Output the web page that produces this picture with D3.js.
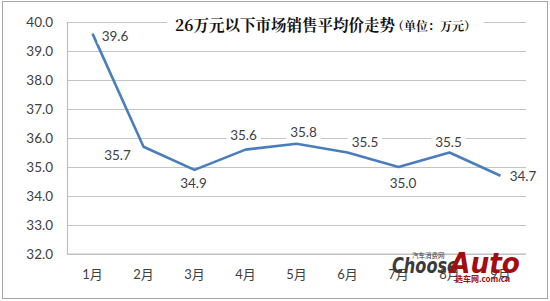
<!DOCTYPE html>
<html><head><meta charset="utf-8">
<script src="https://cdn.jsdelivr.net/npm/d3@7"></script>
<style>html,body{margin:0;padding:0;background:#fff;}svg{display:block;}</style>
</head><body>
<svg id="chart" width="550" height="301"></svg>
<script>
const months = ["1月","2月","3月","4月","5月","6月","7月","8月","9月"];
const avgPrice = [39.6, 35.7, 34.9, 35.6, 35.8, 35.5, 35.0, 35.5, 34.7];
const yTicks = [32, 33, 34, 35, 36, 37, 38, 39, 40];
const titleMain = "26万元以下市场销售平均价走势";
const titleUnit = "（单位：万元）";
// label placement (dx, dy from point) — layout only
const labelOffsets = [[22.5,2.5],[-26,8],[-1,13.5],[-2,-15],[7,-12],[17.5,-10.5],[4.5,16],[-1,-10.5],[22.5,0.5]];

(function () {
const svg = d3.select("#chart");
const pLeft = 67, pRight = 526, pTop = 22, pBottom = 254;

// frame
svg.append("rect").attr("x", 2.5).attr("y", 1.5).attr("width", 545).attr("height", 297)
  .attr("fill", "#fff").attr("stroke", "#a6a6a6").attr("stroke-width", 1);

const x = d3.scaleBand().domain(months).range([pLeft, pRight]).paddingInner(0).paddingOuter(0);
const y = d3.scaleLinear().domain([32, 40]).range([pBottom, pTop]);
const cx = m => x(m) + x.bandwidth() / 2;

// gridlines
const yAxis = d3.axisLeft(y).tickValues(yTicks).tickFormat(d3.format(".1f")).tickSize(-(pRight - pLeft)).tickPadding(14);
const gy = svg.append("g").attr("transform", `translate(${pLeft},0)`).call(yAxis);
gy.select(".domain").remove();
gy.selectAll(".tick line").attr("stroke", "#c4c4c4").attr("stroke-width", 1.2);
gy.selectAll(".tick text").attr("fill", "#404040").style("font-family", "Lato, 'Noto Sans', sans-serif").style("font-size", "13.5px");

// axis lines
svg.append("line").attr("x1", pLeft + 0.5).attr("x2", pLeft + 0.5).attr("y1", pTop).attr("y2", pBottom)
  .attr("stroke", "#bfbfbf").attr("stroke-width", 1.2);
svg.append("line").attr("x1", pLeft).attr("x2", pRight).attr("y1", pBottom).attr("y2", pBottom)
  .attr("stroke", "#bfbfbf").attr("stroke-width", 1.2);

// x axis labels
const xAxis = d3.axisBottom(x).tickSize(0).tickPadding(16);
const gx = svg.append("g").attr("transform", `translate(0,${pBottom})`).call(xAxis);
gx.select(".domain").remove();
gx.selectAll(".tick text").attr("fill", "#404040").style("font-family", "Lato, 'Noto Sans CJK SC', sans-serif").style("font-size", "13px");

// title with white background
const tg = svg.append("g");
const tbg = tg.append("rect").attr("fill", "#fff");
const tt = tg.append("text").attr("x", 175).attr("y", 31)
  .style("font-family", "'Noto Serif CJK SC','Noto Sans CJK SC',serif").attr("fill", "#111");
tt.append("tspan").text(titleMain).style("font-size", "15.5px").style("font-weight", "bold");
tt.append("tspan").text(titleUnit).style("font-size", "12px").style("font-weight", "bold").attr("dx", -3);
const tb = tt.node().getBBox();
tbg.attr("x", tb.x - 8).attr("y", tb.y).attr("width", tb.width + 16).attr("height", tb.height);

// line
const line = d3.line().x((d, i) => cx(months[i])).y(d => y(d));
svg.append("path").datum(avgPrice).attr("d", line).attr("fill", "none")
  .attr("stroke", "#4a7ebb").attr("stroke-width", 2.6).attr("stroke-linejoin", "round");

// data labels
const lg = svg.append("g");
avgPrice.forEach((v, i) => {
  const px = cx(months[i]) + labelOffsets[i][0];
  const py = y(v) + labelOffsets[i][1];
  const g = lg.append("g");
  const r = g.append("rect").attr("fill", "#fff");
  const t = g.append("text").attr("x", px).attr("y", py).attr("text-anchor", "middle")
    .attr("dominant-baseline", "central").attr("fill", "#404040")
    .style("font-family", "Lato, 'Noto Sans', sans-serif").style("font-size", "13.5px")
    .text(d3.format(".1f")(v));
  const b = t.node().getBBox();
  r.attr("x", b.x - 4).attr("y", b.y).attr("width", b.width + 8).attr("height", b.height);
});

// watermark logo
const wm = svg.append("g");
wm.append("text").attr("x", 392).attr("y", 273).text("Choose")
  .style("font-family", "'DejaVu Sans', sans-serif").style("font-weight", "bold").style("font-style", "italic")
  .style("font-size", "21px").attr("fill", "#3a3a3a").attr("textLength", 66).attr("lengthAdjust", "spacingAndGlyphs");
wm.append("text").attr("x", 412).attr("y", 258).text("汽车消费网")
  .style("font-family", "'Noto Sans CJK SC', sans-serif").style("font-size", "6.5px").attr("fill", "#333");
wm.append("text").attr("x", 450).attr("y", 273).text("Auto")
  .style("font-family", "'DejaVu Sans', sans-serif").style("font-weight", "bold").style("font-style", "italic")
  .style("font-size", "29px").attr("fill", "#a30d12").attr("textLength", 70).attr("lengthAdjust", "spacingAndGlyphs");
wm.append("text").attr("x", 455).attr("y", 282).text("选车网.com.cn")
  .style("font-family", "'Noto Sans CJK SC', sans-serif").style("font-weight", "bold").style("font-size", "8px").attr("fill", "#a30d12");
})();
</script>
</body></html>
